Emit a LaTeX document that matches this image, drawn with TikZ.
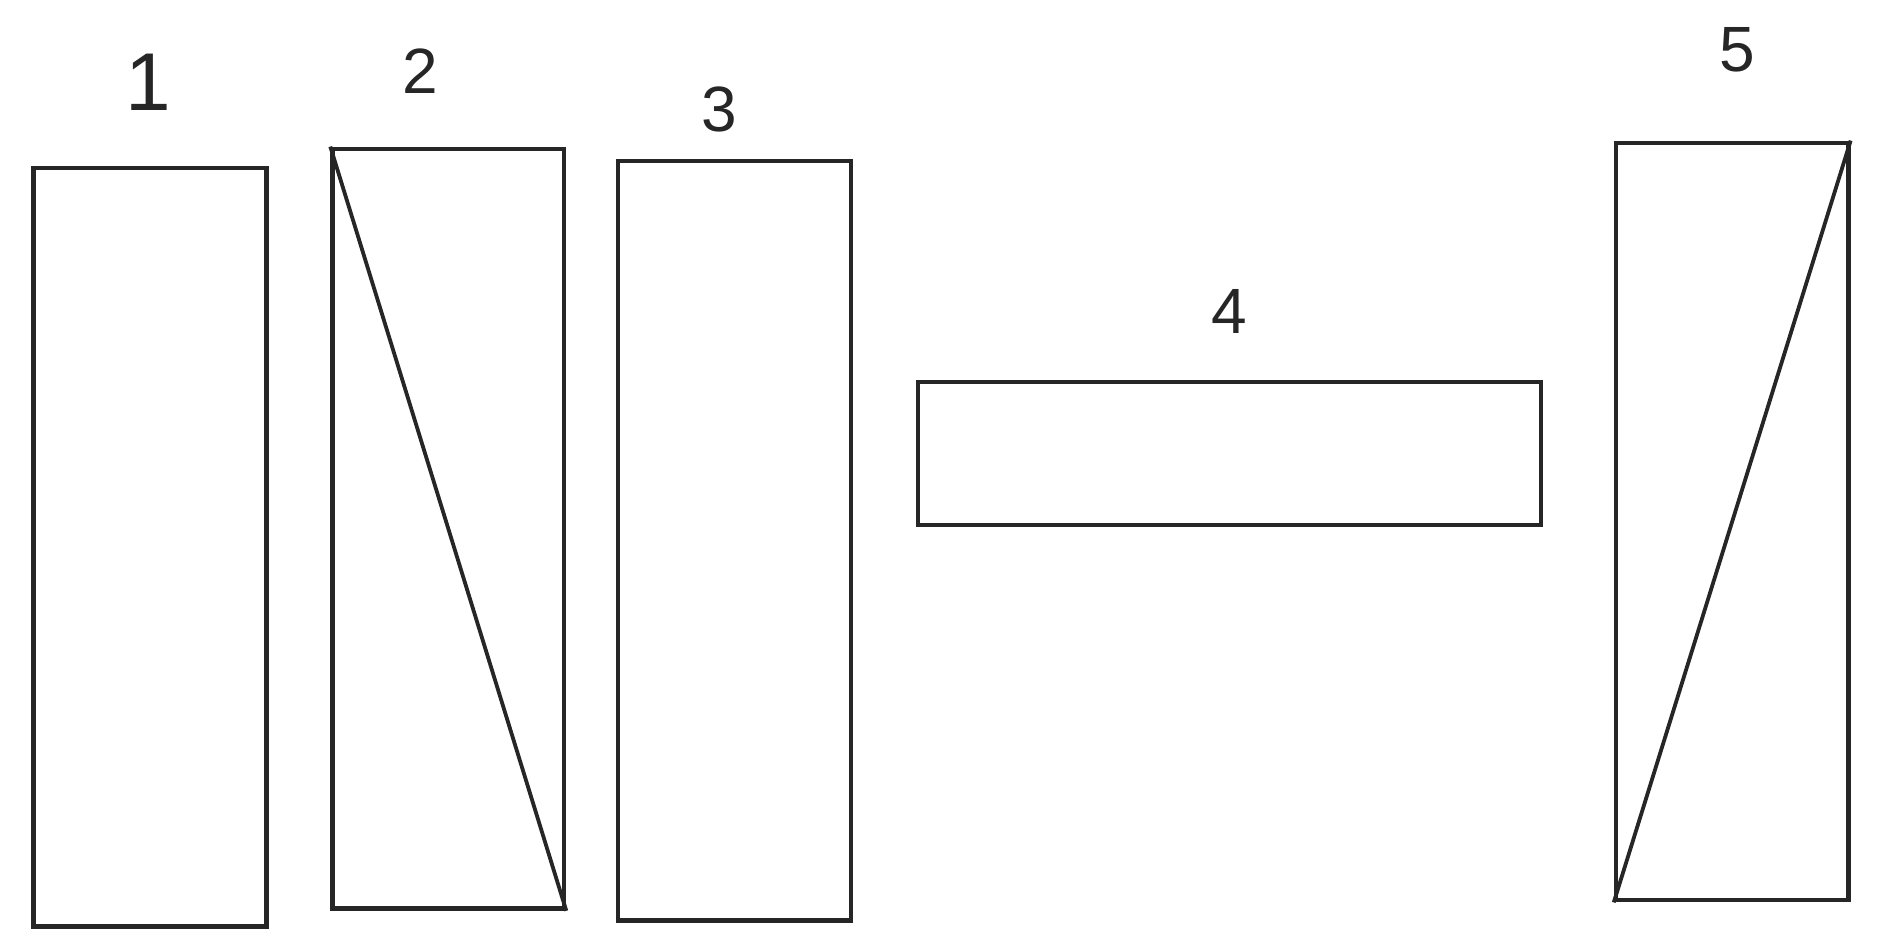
\documentclass[tikz,border=0pt]{standalone}
\usepackage{fontspec}
\setmainfont{Liberation Sans}
\begin{document}
\begin{tikzpicture}[x=1pt,y=-1pt,
  box/.style={draw=black!85,line width=4.4pt,inner sep=0pt,fill=none},
  lbl/.style={inner sep=0pt,text=black!85,font=\fontsize{64}{70}\selectfont},
  diag/.style={draw=black!85,line width=3.8pt}]
\useasboundingbox (0,0) rectangle (1882,947);
\node[box,minimum width=233pt,minimum height=758.6pt] (r1) at (150,547.3) {};
\node[box,minimum width=231.6pt,minimum height=759.8pt] (r2) at (448.3,528.7) {};
\node[box,minimum width=232.8pt,minimum height=759.8pt] (r3) at (734.6,540.7) {};
\node[box,minimum width=623pt,minimum height=143pt] (r4) at (1229.5,453.5) {};
\node[box,minimum width=232.5pt,minimum height=757.4pt] (r5) at (1732.2,521.5) {};
\draw[diag] (r2.north west) -- (r2.south east);
\draw[diag] (r5.south west) -- (r5.north east);
\node[lbl,font=\fontsize{82}{88}\selectfont] (l1) at (148,82) {1};
\node[lbl] (l2) at (420,71) {2};
\node[lbl] (l3) at (719,109) {3};
\node[lbl] (l4) at (1229,311) {4};
\node[lbl] (l5) at (1737,50) {5};
\end{tikzpicture}
\end{document}
